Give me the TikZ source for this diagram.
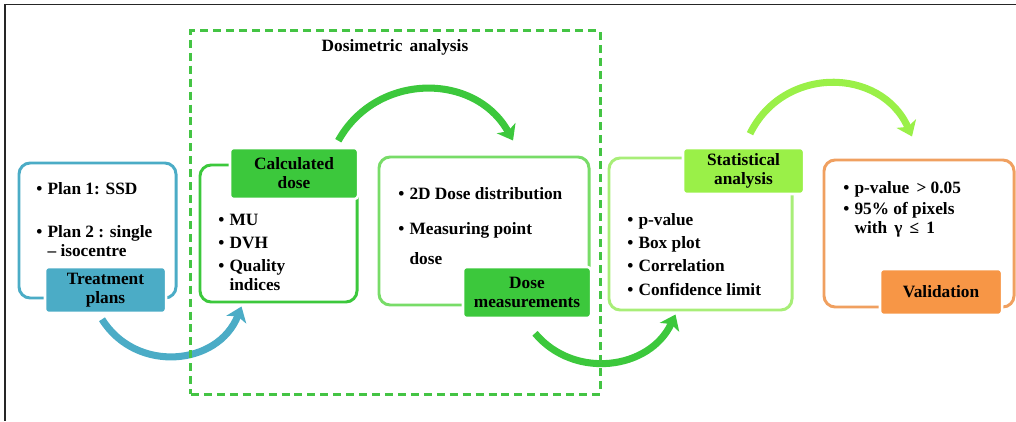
\documentclass[tikz,border=0pt]{standalone}
\usepackage{fontspec}
\setmainfont{Liberation Serif}
\usetikzlibrary{arrows.meta,calc}

\definecolor{tealc}{HTML}{4BACC6}
\definecolor{greenA}{HTML}{3CC83C}
\definecolor{greenB}{HTML}{78DC68}
\definecolor{limeA}{HTML}{9AF048}
\definecolor{limeB}{HTML}{A8EE78}
\definecolor{orangeA}{HTML}{F79646}
\definecolor{orangeB}{HTML}{F0A060}
\definecolor{dashgreen}{HTML}{44C444}

\newcommand{\bul}{\makebox[8pt][l]{\textbullet}}

\begin{document}
\begin{tikzpicture}[
  x=0.025cm, y=0.025cm,
  font=\fontsize{12.3}{13.5}\selectfont\bfseries,
  panel/.style={draw=#1, rounded corners=8pt, line width=2.1pt, fill=white},
  tag/.style={fill=#1, draw=white, line width=1.8pt, rounded corners=2.5pt,
    align=center, inner sep=1pt},
  items/.style={align=left, inner sep=0pt, anchor=north west},
  flow/.style={-{Stealth[length=10pt,width=15pt,inset=2.5pt]}, line width=5pt, draw=#1},
  group/.style={draw=dashgreen, dash pattern=on 5.7pt off 3.5pt, line width=2.1pt}
]
\useasboundingbox (0,0) rectangle (1016,421);

% Page frame (top and left only)
\draw[line width=1.4pt, black!85] (1016,416.5) -| (5,0);

% Stage 1: treatment plans
\node[panel=tealc, minimum width=3.925cm, minimum height=3.375cm] (b1) at (97.5,190.5) {};
\node[tag=tealc, minimum width=3.025cm, minimum height=1.15cm] (tp) at (105.5,131) {Treatment\\plans};
\node[items] (l1) at (36,238.7) {\bul Plan 1: SSD\\[17pt]\bul Plan 2 : single\\\hspace{8pt}– isocentre};

% Stage 2: calculated dose
\node[panel=greenA, minimum width=3.925cm, minimum height=3.425cm] (b2) at (278.5,187.5) {};
\node[tag=greenA, minimum width=3.2cm, minimum height=1.275cm] (cd) at (294,247.5) {Calculated\\dose};
\node[items] (l2) at (218,206.7) {\bul MU\\[2.6pt]\bul DVH\\[2.6pt]\bul Quality\\\hspace{8pt}indices};

% Stage 3: dose measurements
\node[panel=greenB, minimum width=5.25cm, minimum height=3.7cm] (b3) at (484,190) {};
\node[tag=greenA, minimum width=3.2cm, minimum height=1.275cm] (dm) at (527,128.5) {Dose\\measurements};
\node[items] (l3) at (398,233.7) {\bul 2D Dose distribution\\[11pt]\bul Measuring point\\[8.3pt]\hspace{8pt}dose};

% Stage 4: statistical analysis
\node[panel=limeB, minimum width=4.575cm, minimum height=3.8cm] (b4) at (700.5,187) {};
\node[tag=limeA, minimum width=3.025cm, minimum height=1.15cm] (sa) at (743.5,250) {Statistical\\analysis};
\node[items] (l4) at (627,207.7) {\bul p-value\\[3pt]\bul Box plot\\[3pt]\bul Correlation\\[3pt]\bul Confidence limit};

% Stage 5: validation
\node[panel=orangeB, minimum width=4.75cm, minimum height=3.675cm] (b5) at (919,187.5) {};
\node[tag=orangeA, minimum width=3.05cm, minimum height=1.15cm] (va) at (941,129) {Validation};
\node[items] (l5) at (843,239.7) {\bul p-value \,> 0.05\\[1.2pt]\bul 95\% of pixels\\\hspace{8pt}with \,γ \,≤\, 1};

% Curved arrows between stages
\coordinate (a1s) at ($(tp.south)+(-3.5,-5)$);
\coordinate (a1e) at ($(b2.south west)+(43,-3)$);
\coordinate (a2s) at ($(cd.north east)+(-21,6)$);
\coordinate (a2e) at ($(b3.north)+(29,15)$);
\coordinate (a3s) at ($(dm.south)+(8,-14)$);
\coordinate (a3e) at ($(b4.south west)+(68,-3)$);
\coordinate (a4s) at ($(sa.north)+(6.5,13)$);
\coordinate (a4e) at ($(b5.north)+(-7,22)$);
\draw[flow=tealc] (a1s) to[out=-58,in=-111.5,looseness=1.17] (a1e);
\draw[flow=greenA] (a2s) to[out=61,in=119,looseness=1.15] (a2e);
\draw[flow=greenA] (a3s) to[out=-50,in=-115,looseness=1.1] (a3e);
\draw[flow=limeA] (a4s) to[out=64,in=114,looseness=1.2] (a4e);

% Dosimetric analysis group
\node[group, minimum width=10.225cm, minimum height=9.075cm] (dosi) at (395.5,208.5) {};
\node (dtitle) at (395,374) {Dosimetric\, analysis};

\end{tikzpicture}
\end{document}
